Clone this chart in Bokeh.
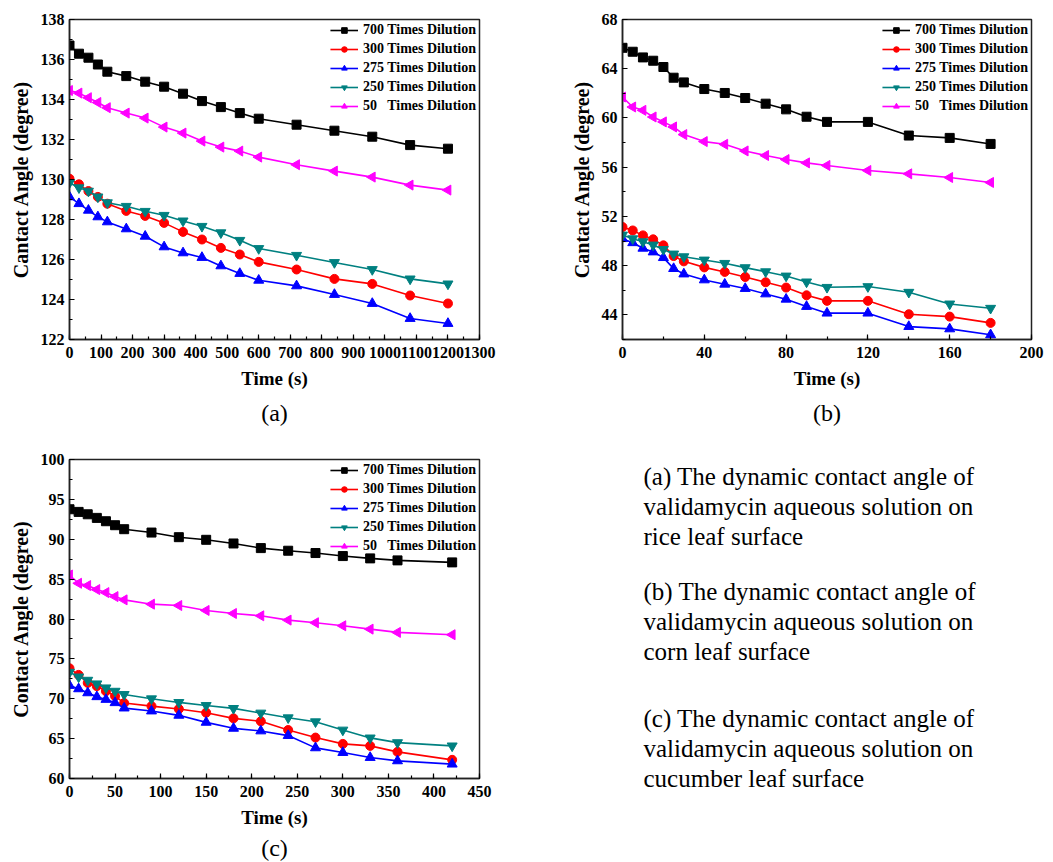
import numpy as np
from bokeh.plotting import figure
from bokeh.models import FixedTicker, Range1d, Label, Legend, Title
from bokeh.layouts import column, row
from bokeh.embed import file_html
from bokeh.resources import INLINE

# ---------------- data ----------------
series_labels = ["700 Times Dilution", "300 Times Dilution", "275 Times Dilution",
                 "250 Times Dilution", "50   Times Dilution"]

t_a = [0, 30, 60, 90, 120, 180, 240, 300, 360, 420, 480, 540, 600, 720, 840, 960, 1080, 1200]
a700 = [136.70, 136.29, 136.09, 135.75, 135.39, 135.17, 134.89, 134.64, 134.29, 133.92, 133.62, 133.32, 133.04, 132.74, 132.44, 132.14, 131.72, 131.54]
a300 = [130.04, 129.76, 129.42, 129.13, 128.79, 128.43, 128.18, 127.83, 127.38, 127.00, 126.58, 126.25, 125.88, 125.50, 125.03, 124.78, 124.20, 123.80]
a275 = [129.13, 128.79, 128.46, 128.13, 127.88, 127.53, 127.16, 126.63, 126.33, 126.10, 125.68, 125.30, 124.96, 124.68, 124.25, 123.80, 123.05, 122.80]
a250 = [129.84, 129.59, 129.42, 129.13, 128.84, 128.66, 128.41, 128.21, 127.93, 127.66, 127.34, 126.96, 126.55, 126.21, 125.85, 125.50, 125.03, 124.78]
a50 = [134.45, 134.32, 134.09, 133.85, 133.59, 133.32, 133.07, 132.62, 132.32, 131.92, 131.62, 131.42, 131.12, 130.74, 130.42, 130.12, 129.72, 129.47]

t_b = [0, 5, 10, 15, 20, 25, 30, 40, 50, 60, 70, 80, 90, 100, 120, 140, 160, 180]
b700 = [65.70, 65.38, 64.92, 64.65, 64.14, 63.27, 62.89, 62.35, 62.03, 61.62, 61.16, 60.70, 60.10, 59.68, 59.68, 58.57, 58.38, 57.89]
b300 = [51.14, 50.86, 50.46, 50.14, 49.65, 48.78, 48.35, 47.86, 47.49, 47.08, 46.65, 46.22, 45.59, 45.14, 45.14, 44.05, 43.86, 43.35]
b275 = [50.19, 49.86, 49.41, 49.11, 48.65, 47.76, 47.32, 46.84, 46.49, 46.14, 45.70, 45.27, 44.68, 44.14, 44.14, 43.05, 42.86, 42.38]
b250 = [50.49, 50.19, 49.95, 49.68, 49.32, 48.95, 48.73, 48.46, 48.19, 47.84, 47.51, 47.16, 46.68, 46.24, 46.30, 45.84, 44.89, 44.54]
b50 = [61.70, 60.89, 60.62, 60.08, 59.68, 59.27, 58.65, 58.08, 57.86, 57.32, 56.95, 56.62, 56.35, 56.14, 55.73, 55.46, 55.16, 54.76]

t_c = [0, 10, 20, 30, 40, 50, 60, 90, 120, 150, 180, 210, 240, 270, 300, 330, 360, 420]
c700 = [93.76, 93.43, 93.13, 92.68, 92.26, 91.76, 91.26, 90.84, 90.26, 89.93, 89.47, 88.89, 88.56, 88.27, 87.89, 87.60, 87.35, 87.10]
c300 = [73.82, 72.99, 71.99, 71.58, 70.95, 70.33, 69.46, 69.08, 68.71, 68.25, 67.54, 67.17, 66.08, 65.13, 64.34, 64.09, 63.34, 62.34]
c275 = [71.66, 71.24, 70.74, 70.25, 69.91, 69.50, 68.83, 68.46, 67.92, 67.04, 66.29, 65.96, 65.38, 63.84, 63.25, 62.63, 62.21, 61.80]
c250 = [73.33, 72.74, 72.33, 71.87, 71.37, 70.95, 70.54, 70.00, 69.54, 69.16, 68.79, 68.21, 67.62, 67.12, 66.08, 65.09, 64.50, 64.09]
c50 = [85.52, 84.48, 84.19, 83.69, 83.31, 82.81, 82.40, 81.86, 81.69, 81.07, 80.69, 80.40, 79.86, 79.53, 79.15, 78.73, 78.32, 78.03]

x_ticks_a = list(range(0, 1301, 100))
y_ticks_a = list(range(122, 139, 2))
x_ticks_b = list(range(0, 201, 40))
y_ticks_b = list(range(44, 69, 4))
x_ticks_c = list(range(0, 451, 50))
y_ticks_c = list(range(60, 101, 5))

captions = [
    ["(a) The dynamic contact angle of", "validamycin aqueous solution on", "rice leaf surface"],
    ["(b) The dynamic contact angle of", "validamycin aqueous solution on", "corn leaf surface"],
    ["(c) The dynamic contact angle of", "validamycin aqueous solution on", "cucumber leaf surface"],
]

# ---------------- styles ----------------
SERIF = "Liberation Serif"
colors = ["#000000", "#FF0000", "#0000FF", "#008080", "#FF00FF"]
markers = ["square", "circle", "triangle", "inverted_triangle", "triangle"]
angles = [0, 0, 0, 0, np.pi / 2]
msizes = [9, 9, 10, 10, 10]


def make_panel(width, height, bl, br, bt, bb, xr, yr, xt, xminor, yt, yminor,
               t, ys, ylabel, tag, tag_offset, tag_standoff):
    p = figure(width=width, height=height, output_backend="svg", toolbar_location=None,
               x_range=Range1d(*xr), y_range=Range1d(*yr),
               min_border_left=bl, min_border_right=br, min_border_top=bt, min_border_bottom=bb)
    p.xgrid.visible = False
    p.ygrid.visible = False
    p.outline_line_color = "#222222"
    p.outline_line_width = 1.5
    p.background_fill_color = "white"
    p.border_fill_color = "white"
    p.xaxis.ticker = FixedTicker(ticks=xt, minor_ticks=xminor)
    p.yaxis.ticker = FixedTicker(ticks=yt, minor_ticks=yminor)
    for ax in (p.xaxis[0], p.yaxis[0]):
        ax.axis_line_width = 1.5
        ax.axis_line_color = "#222222"
        ax.major_tick_in = 5
        ax.major_tick_out = 0
        ax.minor_tick_in = 3
        ax.minor_tick_out = 0
        ax.major_tick_line_width = 1.2
        ax.minor_tick_line_width = 1.2
        ax.major_label_text_font = SERIF
        ax.major_label_text_font_style = "bold"
        ax.major_label_text_font_size = "16px"
        ax.major_label_text_color = "black"
        ax.axis_label_text_font = SERIF
        ax.axis_label_text_font_style = "bold"
        ax.axis_label_text_color = "black"
    p.xaxis.major_label_standoff = 7
    p.yaxis.major_label_standoff = 5
    p.xaxis.axis_label = "Time (s)"
    p.xaxis.axis_label_text_font_size = "19px"
    p.xaxis.axis_label_standoff = 7
    p.yaxis.axis_label = ylabel
    p.yaxis.axis_label_text_font_size = "20px"
    p.yaxis.axis_label_standoff = 6

    items = []
    for lab, y, c, m, a, s in zip(series_labels, ys, colors, markers, angles, msizes):
        r1 = p.line(t, y, line_color=c, line_width=1.6)
        r2 = p.scatter(t, y, marker=m, size=s, angle=a, fill_color=c, line_color=c)
        items.append((lab, [r1, r2]))
    leg = Legend(items=items, location="top_right")
    leg.border_line_alpha = 0
    leg.background_fill_alpha = 0
    leg.margin = 0
    leg.padding = 3
    leg.spacing = 3
    leg.glyph_width = 28
    leg.glyph_height = 14
    leg.label_height = 14
    leg.label_standoff = 5
    leg.label_text_font = SERIF
    leg.label_text_font_style = "bold"
    leg.label_text_font_size = "14px"
    leg.label_text_color = "black"
    p.add_layout(leg, "center")

    p.add_layout(Title(text=tag, align="center", offset=tag_offset, standoff=tag_standoff,
                       text_font=SERIF, text_font_size="24px", text_font_style="normal",
                       text_color="black"), "below")
    return p


pa = make_panel(520, 440, 69, 41, 19, 101, (0, 1300), (122, 138),
                x_ticks_a, list(range(0, 1301, 50)), y_ticks_a, list(range(122, 139, 1)),
                t_a, [a700, a300, a275, a250, a50], "Cantact Angle (degree)", "(a)", -14, 12)
pb = make_panel(533, 440, 102, 22, 19, 101, (0, 200), (42, 68),
                x_ticks_b, list(range(0, 201, 20)), y_ticks_b, list(range(42, 69, 2)),
                t_b, [b700, b300, b275, b250, b50], "Cantact Angle (degree)", "(b)", -1, 12)
pc = make_panel(520, 422, 69, 41, 19, 83, (0, 450), (60, 100),
                x_ticks_c, list(np.arange(0, 451, 25)), y_ticks_c, list(np.arange(60, 100.1, 2.5)),
                t_c, [c700, c300, c275, c250, c50], "Contact Angle (degree)", "(c)", -14, 4)

# caption panel: its frame is aligned with panel (b)'s frame (page x 622..1031)
pt = figure(width=533, height=422, output_backend="svg", toolbar_location=None,
            x_range=Range1d(622, 1031), y_range=Range1d(422, 0),
            x_axis_type=None, y_axis_type=None, min_border=0)
pt.outline_line_color = None
pt.xgrid.visible = False
pt.ygrid.visible = False
block_tops = [36, 151, 278]
for top, lines in zip(block_tops, captions):
    for i, line in enumerate(lines):
        pt.add_layout(Label(x=643, y=top + 30 * i, text=line, text_font=SERIF,
                            text_font_size="25px", text_color="black",
                            text_align="left", text_baseline="middle"))

layout = row(column(pa, pc, spacing=0), column(pb, pt, spacing=0), spacing=0)
open("out.html", "w").write(file_html(layout, INLINE))
